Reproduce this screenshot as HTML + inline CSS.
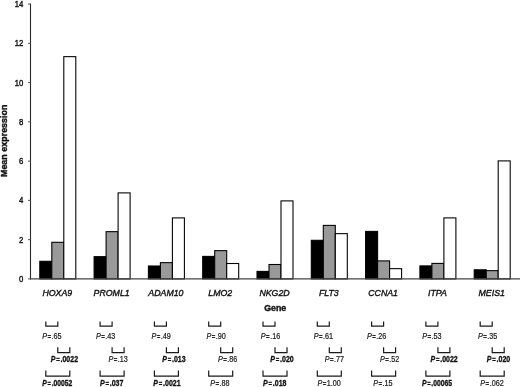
<!DOCTYPE html><html><head><meta charset="utf-8"><title>Mean expression by gene</title>
<style>html,body{margin:0;padding:0;background:#fff}svg{display:block}text{font-family:"Liberation Sans",Arial,Helvetica,sans-serif;fill:#111}</style></head><body>
<svg width="520" height="387" viewBox="0 0 520 387">
<rect width="520" height="387" fill="#fff"/>
<rect x="39.80" y="261.30" width="12.00" height="17.60" fill="#000" stroke="#000" stroke-width="1.08"/>
<rect x="51.80" y="242.30" width="12.00" height="36.60" fill="#999" stroke="#000" stroke-width="1.08"/>
<rect x="63.80" y="56.65" width="12.00" height="222.25" fill="#fff" stroke="#000" stroke-width="1.08"/>
<rect x="94.10" y="256.65" width="12.00" height="22.25" fill="#000" stroke="#000" stroke-width="1.08"/>
<rect x="106.10" y="231.65" width="12.00" height="47.25" fill="#999" stroke="#000" stroke-width="1.08"/>
<rect x="118.10" y="192.90" width="12.00" height="86.00" fill="#fff" stroke="#000" stroke-width="1.08"/>
<rect x="148.40" y="266.00" width="12.00" height="12.90" fill="#000" stroke="#000" stroke-width="1.08"/>
<rect x="160.40" y="262.65" width="12.00" height="16.25" fill="#999" stroke="#000" stroke-width="1.08"/>
<rect x="172.40" y="217.90" width="12.00" height="61.00" fill="#fff" stroke="#000" stroke-width="1.08"/>
<rect x="202.70" y="256.40" width="12.00" height="22.50" fill="#000" stroke="#000" stroke-width="1.08"/>
<rect x="214.70" y="250.65" width="12.00" height="28.25" fill="#999" stroke="#000" stroke-width="1.08"/>
<rect x="226.70" y="263.50" width="12.00" height="15.40" fill="#fff" stroke="#000" stroke-width="1.08"/>
<rect x="257.00" y="271.40" width="12.00" height="7.50" fill="#000" stroke="#000" stroke-width="1.08"/>
<rect x="269.00" y="264.50" width="12.00" height="14.40" fill="#999" stroke="#000" stroke-width="1.08"/>
<rect x="281.00" y="200.90" width="12.00" height="78.00" fill="#fff" stroke="#000" stroke-width="1.08"/>
<rect x="311.30" y="240.30" width="12.00" height="38.60" fill="#000" stroke="#000" stroke-width="1.08"/>
<rect x="323.30" y="225.40" width="12.00" height="53.50" fill="#999" stroke="#000" stroke-width="1.08"/>
<rect x="335.30" y="233.65" width="12.00" height="45.25" fill="#fff" stroke="#000" stroke-width="1.08"/>
<rect x="365.60" y="231.40" width="12.00" height="47.50" fill="#000" stroke="#000" stroke-width="1.08"/>
<rect x="377.60" y="260.90" width="12.00" height="18.00" fill="#999" stroke="#000" stroke-width="1.08"/>
<rect x="389.60" y="268.65" width="12.00" height="10.25" fill="#fff" stroke="#000" stroke-width="1.08"/>
<rect x="419.90" y="265.90" width="12.00" height="13.00" fill="#000" stroke="#000" stroke-width="1.08"/>
<rect x="431.90" y="263.40" width="12.00" height="15.50" fill="#999" stroke="#000" stroke-width="1.08"/>
<rect x="443.90" y="217.90" width="12.00" height="61.00" fill="#fff" stroke="#000" stroke-width="1.08"/>
<rect x="474.20" y="269.80" width="12.00" height="9.10" fill="#000" stroke="#000" stroke-width="1.08"/>
<rect x="486.20" y="270.65" width="12.00" height="8.25" fill="#999" stroke="#000" stroke-width="1.08"/>
<rect x="498.20" y="160.90" width="12.00" height="118.00" fill="#fff" stroke="#000" stroke-width="1.08"/>
<line x1="30.5" y1="3.6" x2="30.5" y2="279.4" stroke="#2a2a2a" stroke-width="1.1"/>
<line x1="30" y1="278.9" x2="520" y2="278.9" stroke="#444" stroke-width="1.1"/>
<line x1="28" y1="278.90" x2="30.5" y2="278.90" stroke="#555" stroke-width="1"/>
<text transform="translate(23.4,281.80) scale(0.87,1)" font-size="8.9" text-anchor="end" stroke="#111" stroke-width="0.4">0</text>
<line x1="28" y1="239.64" x2="30.5" y2="239.64" stroke="#555" stroke-width="1"/>
<text transform="translate(23.4,242.54) scale(0.87,1)" font-size="8.9" text-anchor="end" stroke="#111" stroke-width="0.4">2</text>
<line x1="28" y1="200.38" x2="30.5" y2="200.38" stroke="#555" stroke-width="1"/>
<text transform="translate(23.4,203.28) scale(0.87,1)" font-size="8.9" text-anchor="end" stroke="#111" stroke-width="0.4">4</text>
<line x1="28" y1="161.12" x2="30.5" y2="161.12" stroke="#555" stroke-width="1"/>
<text transform="translate(23.4,164.02) scale(0.87,1)" font-size="8.9" text-anchor="end" stroke="#111" stroke-width="0.4">6</text>
<line x1="28" y1="121.86" x2="30.5" y2="121.86" stroke="#555" stroke-width="1"/>
<text transform="translate(23.4,124.76) scale(0.87,1)" font-size="8.9" text-anchor="end" stroke="#111" stroke-width="0.4">8</text>
<line x1="28" y1="82.60" x2="30.5" y2="82.60" stroke="#555" stroke-width="1"/>
<text transform="translate(23.4,85.50) scale(0.87,1)" font-size="8.9" text-anchor="end" stroke="#111" stroke-width="0.4">10</text>
<line x1="28" y1="43.34" x2="30.5" y2="43.34" stroke="#555" stroke-width="1"/>
<text transform="translate(23.4,46.24) scale(0.87,1)" font-size="8.9" text-anchor="end" stroke="#111" stroke-width="0.4">12</text>
<line x1="28" y1="4.08" x2="30.5" y2="4.08" stroke="#555" stroke-width="1"/>
<text transform="translate(23.4,6.98) scale(0.87,1)" font-size="8.9" text-anchor="end" stroke="#111" stroke-width="0.4">14</text>
<text transform="translate(6.6,140.8) rotate(-90) scale(1.04,1)" font-size="8.6" font-weight="bold" text-anchor="middle" stroke="#111" stroke-width="0.4">Mean expression</text>
<text transform="translate(57.30,295.8) scale(0.915,1)" font-size="9.6" font-style="italic" text-anchor="middle" stroke="#111" stroke-width="0.4">HOXA9</text>
<text transform="translate(111.60,295.8) scale(0.915,1)" font-size="9.6" font-style="italic" text-anchor="middle" stroke="#111" stroke-width="0.4">PROML1</text>
<text transform="translate(165.90,295.8) scale(0.915,1)" font-size="9.6" font-style="italic" text-anchor="middle" stroke="#111" stroke-width="0.4">ADAM10</text>
<text transform="translate(220.20,295.8) scale(0.915,1)" font-size="9.6" font-style="italic" text-anchor="middle" stroke="#111" stroke-width="0.4">LMO2</text>
<text transform="translate(274.50,295.8) scale(0.915,1)" font-size="9.6" font-style="italic" text-anchor="middle" stroke="#111" stroke-width="0.4">NKG2D</text>
<text transform="translate(328.80,295.8) scale(0.915,1)" font-size="9.6" font-style="italic" text-anchor="middle" stroke="#111" stroke-width="0.4">FLT3</text>
<text transform="translate(383.10,295.8) scale(0.915,1)" font-size="9.6" font-style="italic" text-anchor="middle" stroke="#111" stroke-width="0.4">CCNA1</text>
<text transform="translate(437.40,295.8) scale(0.915,1)" font-size="9.6" font-style="italic" text-anchor="middle" stroke="#111" stroke-width="0.4">ITPA</text>
<text transform="translate(491.70,295.8) scale(0.915,1)" font-size="9.6" font-style="italic" text-anchor="middle" stroke="#111" stroke-width="0.4">MEIS1</text>
<text x="275.2" y="311.2" font-size="8.8" font-weight="bold" text-anchor="middle" stroke="#111" stroke-width="0.4">Gene</text>
<path d="M45.80 321.50V326.20H57.80V321.50" fill="none" stroke="#1a1a1a" stroke-width="1.2"/>
<text transform="translate(51.80,338.80) scale(0.88,1)" font-size="8.2" text-anchor="middle" fill="#2a2a2a" stroke="#2a2a2a" stroke-width="0.22"><tspan font-style="italic">P</tspan><tspan font-size="7" dx="0.5" dy="-0.2" stroke-width="0.3">=</tspan><tspan dx="0.5" dy="0.2">.65</tspan></text>
<path d="M57.80 347.20V352.60H69.80V347.20" fill="none" stroke="#1a1a1a" stroke-width="1.2"/>
<text transform="translate(64.40,362.45) scale(0.86,1)" font-size="8.2" text-anchor="middle" fill="#111" stroke="#111" stroke-width="0.3" font-weight="bold"><tspan font-style="italic">P</tspan><tspan font-size="7" dx="0.9" dy="-0.2" stroke-width="0.3">=</tspan><tspan dx="0.9" dy="0.2">.0022</tspan></text>
<path d="M45.80 370.60V376.20H69.80V370.60" fill="none" stroke="#1a1a1a" stroke-width="1.2"/>
<text transform="translate(57.30,386.15) scale(0.83,1)" font-size="8.2" text-anchor="middle" fill="#111" stroke="#111" stroke-width="0.3" font-weight="bold"><tspan font-style="italic">P</tspan><tspan font-size="7" dx="0.9" dy="-0.2" stroke-width="0.3">=</tspan><tspan dx="0.9" dy="0.2">.00052</tspan></text>
<path d="M100.10 321.50V326.20H112.10V321.50" fill="none" stroke="#1a1a1a" stroke-width="1.2"/>
<text transform="translate(105.60,338.80) scale(0.88,1)" font-size="8.2" text-anchor="middle" fill="#2a2a2a" stroke="#2a2a2a" stroke-width="0.22"><tspan font-style="italic">P</tspan><tspan font-size="7" dx="0.5" dy="-0.2" stroke-width="0.3">=</tspan><tspan dx="0.5" dy="0.2">.43</tspan></text>
<path d="M112.10 347.20V352.60H124.10V347.20" fill="none" stroke="#1a1a1a" stroke-width="1.2"/>
<text transform="translate(118.10,362.45) scale(0.88,1)" font-size="8.2" text-anchor="middle" fill="#2a2a2a" stroke="#2a2a2a" stroke-width="0.22"><tspan font-style="italic">P</tspan><tspan font-size="7" dx="0.5" dy="-0.2" stroke-width="0.3">=</tspan><tspan dx="0.5" dy="0.2">.13</tspan></text>
<path d="M100.10 370.60V376.20H124.10V370.60" fill="none" stroke="#1a1a1a" stroke-width="1.2"/>
<text transform="translate(111.70,386.15) scale(0.86,1)" font-size="8.2" text-anchor="middle" fill="#111" stroke="#111" stroke-width="0.3" font-weight="bold"><tspan font-style="italic">P</tspan><tspan font-size="7" dx="0.9" dy="-0.2" stroke-width="0.3">=</tspan><tspan dx="0.9" dy="0.2">.037</tspan></text>
<path d="M154.40 321.50V326.20H166.40V321.50" fill="none" stroke="#1a1a1a" stroke-width="1.2"/>
<text transform="translate(161.10,338.80) scale(0.88,1)" font-size="8.2" text-anchor="middle" fill="#2a2a2a" stroke="#2a2a2a" stroke-width="0.22"><tspan font-style="italic">P</tspan><tspan font-size="7" dx="0.5" dy="-0.2" stroke-width="0.3">=</tspan><tspan dx="0.5" dy="0.2">.49</tspan></text>
<path d="M166.40 347.20V352.60H178.40V347.20" fill="none" stroke="#1a1a1a" stroke-width="1.2"/>
<text transform="translate(173.90,362.45) scale(0.86,1)" font-size="8.2" text-anchor="middle" fill="#111" stroke="#111" stroke-width="0.3" font-weight="bold"><tspan font-style="italic">P</tspan><tspan font-size="7" dx="0.9" dy="-0.2" stroke-width="0.3">=</tspan><tspan dx="0.9" dy="0.2">.013</tspan></text>
<path d="M154.40 370.60V376.20H178.40V370.60" fill="none" stroke="#1a1a1a" stroke-width="1.2"/>
<text transform="translate(167.00,386.15) scale(0.86,1)" font-size="8.2" text-anchor="middle" fill="#111" stroke="#111" stroke-width="0.3" font-weight="bold"><tspan font-style="italic">P</tspan><tspan font-size="7" dx="0.9" dy="-0.2" stroke-width="0.3">=</tspan><tspan dx="0.9" dy="0.2">.0021</tspan></text>
<path d="M208.70 321.50V326.20H220.70V321.50" fill="none" stroke="#1a1a1a" stroke-width="1.2"/>
<text transform="translate(216.20,338.80) scale(0.88,1)" font-size="8.2" text-anchor="middle" fill="#2a2a2a" stroke="#2a2a2a" stroke-width="0.22"><tspan font-style="italic">P</tspan><tspan font-size="7" dx="0.5" dy="-0.2" stroke-width="0.3">=</tspan><tspan dx="0.5" dy="0.2">.90</tspan></text>
<path d="M220.70 347.20V352.60H232.70V347.20" fill="none" stroke="#1a1a1a" stroke-width="1.2"/>
<text transform="translate(227.70,362.45) scale(0.88,1)" font-size="8.2" text-anchor="middle" fill="#2a2a2a" stroke="#2a2a2a" stroke-width="0.22"><tspan font-style="italic">P</tspan><tspan font-size="7" dx="0.5" dy="-0.2" stroke-width="0.3">=</tspan><tspan dx="0.5" dy="0.2">.86</tspan></text>
<path d="M208.70 370.60V376.20H232.70V370.60" fill="none" stroke="#1a1a1a" stroke-width="1.2"/>
<text transform="translate(219.95,386.15) scale(0.88,1)" font-size="8.2" text-anchor="middle" fill="#2a2a2a" stroke="#2a2a2a" stroke-width="0.22"><tspan font-style="italic">P</tspan><tspan font-size="7" dx="0.5" dy="-0.2" stroke-width="0.3">=</tspan><tspan dx="0.5" dy="0.2">.88</tspan></text>
<path d="M263.00 321.50V326.20H275.00V321.50" fill="none" stroke="#1a1a1a" stroke-width="1.2"/>
<text transform="translate(270.50,338.80) scale(0.88,1)" font-size="8.2" text-anchor="middle" fill="#2a2a2a" stroke="#2a2a2a" stroke-width="0.22"><tspan font-style="italic">P</tspan><tspan font-size="7" dx="0.5" dy="-0.2" stroke-width="0.3">=</tspan><tspan dx="0.5" dy="0.2">.16</tspan></text>
<path d="M275.00 347.20V352.60H287.00V347.20" fill="none" stroke="#1a1a1a" stroke-width="1.2"/>
<text transform="translate(282.00,362.45) scale(0.86,1)" font-size="8.2" text-anchor="middle" fill="#111" stroke="#111" stroke-width="0.3" font-weight="bold"><tspan font-style="italic">P</tspan><tspan font-size="7" dx="0.9" dy="-0.2" stroke-width="0.3">=</tspan><tspan dx="0.9" dy="0.2">.020</tspan></text>
<path d="M263.00 370.60V376.20H287.00V370.60" fill="none" stroke="#1a1a1a" stroke-width="1.2"/>
<text transform="translate(274.80,386.15) scale(0.86,1)" font-size="8.2" text-anchor="middle" fill="#111" stroke="#111" stroke-width="0.3" font-weight="bold"><tspan font-style="italic">P</tspan><tspan font-size="7" dx="0.9" dy="-0.2" stroke-width="0.3">=</tspan><tspan dx="0.9" dy="0.2">.018</tspan></text>
<path d="M317.30 321.50V326.20H329.30V321.50" fill="none" stroke="#1a1a1a" stroke-width="1.2"/>
<text transform="translate(323.30,338.80) scale(0.88,1)" font-size="8.2" text-anchor="middle" fill="#2a2a2a" stroke="#2a2a2a" stroke-width="0.22"><tspan font-style="italic">P</tspan><tspan font-size="7" dx="0.5" dy="-0.2" stroke-width="0.3">=</tspan><tspan dx="0.5" dy="0.2">.61</tspan></text>
<path d="M329.30 347.20V352.60H341.30V347.20" fill="none" stroke="#1a1a1a" stroke-width="1.2"/>
<text transform="translate(334.30,362.45) scale(0.88,1)" font-size="8.2" text-anchor="middle" fill="#2a2a2a" stroke="#2a2a2a" stroke-width="0.22"><tspan font-style="italic">P</tspan><tspan font-size="7" dx="0.5" dy="-0.2" stroke-width="0.3">=</tspan><tspan dx="0.5" dy="0.2">.77</tspan></text>
<path d="M317.30 370.60V376.20H341.30V370.60" fill="none" stroke="#1a1a1a" stroke-width="1.2"/>
<text transform="translate(329.10,386.15) scale(0.88,1)" font-size="8.2" text-anchor="middle" fill="#2a2a2a" stroke="#2a2a2a" stroke-width="0.22"><tspan font-style="italic">P</tspan><tspan font-size="7" dx="0.5" dy="-0.2" stroke-width="0.3">=</tspan><tspan dx="0.5" dy="0.2">1.00</tspan></text>
<path d="M371.60 321.50V326.20H383.60V321.50" fill="none" stroke="#1a1a1a" stroke-width="1.2"/>
<text transform="translate(376.60,338.80) scale(0.88,1)" font-size="8.2" text-anchor="middle" fill="#2a2a2a" stroke="#2a2a2a" stroke-width="0.22"><tspan font-style="italic">P</tspan><tspan font-size="7" dx="0.5" dy="-0.2" stroke-width="0.3">=</tspan><tspan dx="0.5" dy="0.2">.26</tspan></text>
<path d="M383.60 347.20V352.60H395.60V347.20" fill="none" stroke="#1a1a1a" stroke-width="1.2"/>
<text transform="translate(389.60,362.45) scale(0.88,1)" font-size="8.2" text-anchor="middle" fill="#2a2a2a" stroke="#2a2a2a" stroke-width="0.22"><tspan font-style="italic">P</tspan><tspan font-size="7" dx="0.5" dy="-0.2" stroke-width="0.3">=</tspan><tspan dx="0.5" dy="0.2">.52</tspan></text>
<path d="M371.60 370.60V376.20H395.60V370.60" fill="none" stroke="#1a1a1a" stroke-width="1.2"/>
<text transform="translate(382.80,386.15) scale(0.88,1)" font-size="8.2" text-anchor="middle" fill="#2a2a2a" stroke="#2a2a2a" stroke-width="0.22"><tspan font-style="italic">P</tspan><tspan font-size="7" dx="0.5" dy="-0.2" stroke-width="0.3">=</tspan><tspan dx="0.5" dy="0.2">.15</tspan></text>
<path d="M425.90 321.50V326.20H437.90V321.50" fill="none" stroke="#1a1a1a" stroke-width="1.2"/>
<text transform="translate(431.90,338.80) scale(0.88,1)" font-size="8.2" text-anchor="middle" fill="#2a2a2a" stroke="#2a2a2a" stroke-width="0.22"><tspan font-style="italic">P</tspan><tspan font-size="7" dx="0.5" dy="-0.2" stroke-width="0.3">=</tspan><tspan dx="0.5" dy="0.2">.53</tspan></text>
<path d="M437.90 347.20V352.60H449.90V347.20" fill="none" stroke="#1a1a1a" stroke-width="1.2"/>
<text transform="translate(444.10,362.45) scale(0.86,1)" font-size="8.2" text-anchor="middle" fill="#111" stroke="#111" stroke-width="0.3" font-weight="bold"><tspan font-style="italic">P</tspan><tspan font-size="7" dx="0.9" dy="-0.2" stroke-width="0.3">=</tspan><tspan dx="0.9" dy="0.2">.0022</tspan></text>
<path d="M425.90 370.60V376.20H449.90V370.60" fill="none" stroke="#1a1a1a" stroke-width="1.2"/>
<text transform="translate(437.00,386.15) scale(0.83,1)" font-size="8.2" text-anchor="middle" fill="#111" stroke="#111" stroke-width="0.3" font-weight="bold"><tspan font-style="italic">P</tspan><tspan font-size="7" dx="0.9" dy="-0.2" stroke-width="0.3">=</tspan><tspan dx="0.9" dy="0.2">.00065</tspan></text>
<path d="M480.20 321.50V326.20H492.20V321.50" fill="none" stroke="#1a1a1a" stroke-width="1.2"/>
<text transform="translate(487.70,338.80) scale(0.88,1)" font-size="8.2" text-anchor="middle" fill="#2a2a2a" stroke="#2a2a2a" stroke-width="0.22"><tspan font-style="italic">P</tspan><tspan font-size="7" dx="0.5" dy="-0.2" stroke-width="0.3">=</tspan><tspan dx="0.5" dy="0.2">.35</tspan></text>
<path d="M492.20 347.20V352.60H504.20V347.20" fill="none" stroke="#1a1a1a" stroke-width="1.2"/>
<text transform="translate(498.50,362.45) scale(0.86,1)" font-size="8.2" text-anchor="middle" fill="#111" stroke="#111" stroke-width="0.3" font-weight="bold"><tspan font-style="italic">P</tspan><tspan font-size="7" dx="0.9" dy="-0.2" stroke-width="0.3">=</tspan><tspan dx="0.9" dy="0.2">.020</tspan></text>
<path d="M480.20 370.60V376.20H504.20V370.60" fill="none" stroke="#1a1a1a" stroke-width="1.2"/>
<text transform="translate(492.00,386.15) scale(0.88,1)" font-size="8.2" text-anchor="middle" fill="#2a2a2a" stroke="#2a2a2a" stroke-width="0.22"><tspan font-style="italic">P</tspan><tspan font-size="7" dx="0.5" dy="-0.2" stroke-width="0.3">=</tspan><tspan dx="0.5" dy="0.2">.062</tspan></text>
</svg></body></html>
